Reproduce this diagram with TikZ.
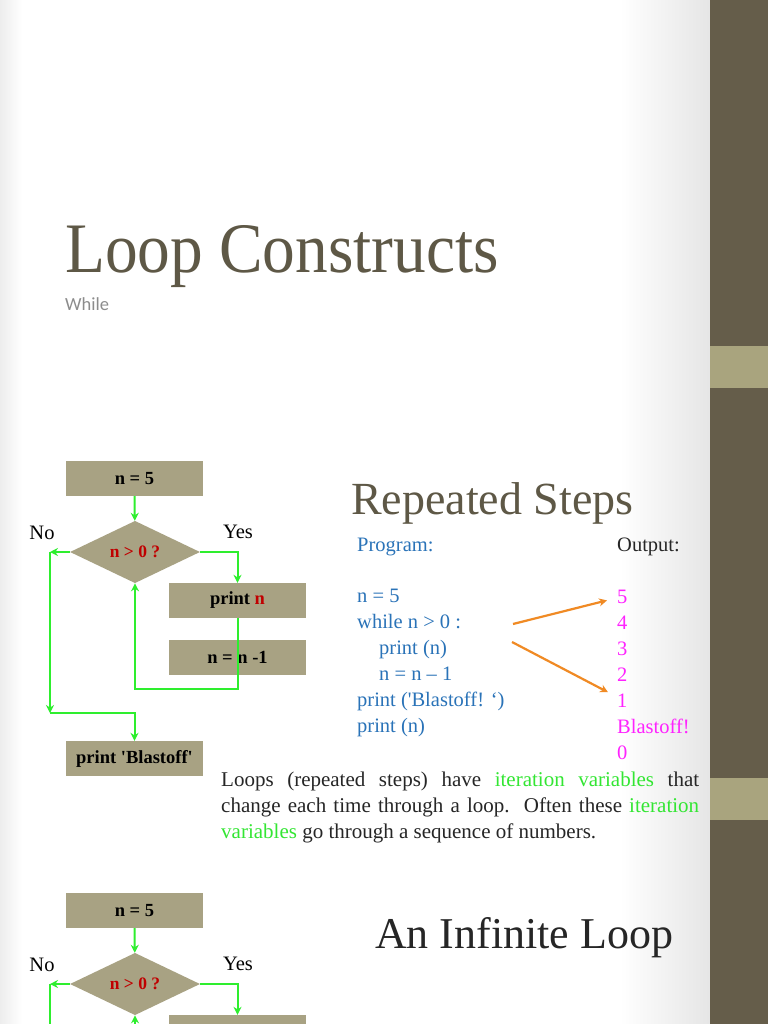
\documentclass[tikz,border=0pt]{standalone}
\usepackage{fontspec}
\setmainfont{Liberation Serif}
\newfontfamily\subfont{Carlito}
\usepackage{tikz}
\usetikzlibrary{arrows.meta,positioning,calc,shapes.geometric}
\definecolor{bar}{HTML}{655D4A}
\definecolor{band}{HTML}{A9A47E}
\definecolor{khaki}{HTML}{A8A283}
\definecolor{ttl}{HTML}{5E5846}
\definecolor{flow}{HTML}{2EEE2E}
\definecolor{cond}{HTML}{C00000}
\definecolor{prog}{HTML}{2A73B8}
\definecolor{outc}{HTML}{FF22FF}
\definecolor{orng}{HTML}{F08A24}
\definecolor{itv}{HTML}{33E633}
\tikzset{
  >={Stealth[length=8pt,width=8pt]},
  fbox/.style={fill=khaki,minimum width=137pt,minimum height=35pt,inner sep=0pt,font=\bfseries\fontsize{18.5}{18.5}\selectfont},
  dec/.style={diamond,fill=khaki,minimum width=130pt,minimum height=58pt,inner sep=0pt,font=\bfseries\fontsize{17.5}{17.5}\selectfont,text=cond},
  lab/.style={font=\fontsize{20.5}{20.5}\selectfont,inner sep=0pt},
  link/.style={->,draw=flow,line width=2pt},
  code/.style={anchor=base west,inner sep=0pt,font=\fontsize{20.5}{20.5}\selectfont,text=prog},
  outv/.style={anchor=base west,inner sep=0pt,font=\fontsize{20.5}{20.5}\selectfont,text=outc},
  para/.style={anchor=base west,inner sep=0pt,font=\fontsize{21}{21}\selectfont,text=black!85},
  pointer/.style={->,draw=orng,line width=2.2pt},
}
\begin{document}
\begin{tikzpicture}[x=1pt,y=-1pt]
\useasboundingbox (0,0) rectangle (768,1024);
\clip (0,0) rectangle (768,1024);
\fill[white] (0,0) rectangle (710,1024);
\shade[left color=white,right color=black!10] (620,0) rectangle (710,1024);
\shade[left color=black!7,right color=white] (0,0) rectangle (22,1024);
\fill[bar] (710,0) rectangle (768,1024);
\fill[band] (710,346) rectangle (768,388);
\fill[band] (710,778) rectangle (768,820);

\node[anchor=base west,inner sep=0pt,text=ttl,font=\fontsize{71}{71}\selectfont] (title) at (65,272) {\scalebox{0.92}[1]{Loop Constructs}};
\node[anchor=base west,inner sep=0pt,text=black!45,font=\subfont\fontsize{18.5}{18.5}\selectfont] (sub) at (65,310) {While};

\node[fbox] (inita) at (134.5,478.5) {n = 5};
\node[dec] (testa) at (135,552) {n > 0 ?};
\node[fbox] (showa) at (237.5,600.5) {print \textcolor{cond}{n}};
\node[fbox] (decra) at (237.5,657.5) {n = n -1};
\node[fbox] (donea) at (134.5,758.5) {print \textquotesingle Blastoff\textquotesingle};
\node[lab] (noa) at (42,533) {No};
\node[lab] (yesa) at (238,532) {Yes};
\coordinate (backa) at (237.5,689);
\coordinate (lefta) at (50,552);
\coordinate (lowa) at (50,713);
\draw[link] (inita) -- (testa);
\draw[link] (testa.east) -| (showa.north);
\draw[link] (showa.south) -- (backa) -| (testa.south);
\draw[link] (testa.west) -- (lefta);
\draw[link] (lefta) -- (lowa);
\draw[link] (lowa) -| (donea.north);

\node[anchor=base west,inner sep=0pt,text=ttl,font=\fontsize{46}{46}\selectfont] (rep) at (351,514) {Repeated Steps};
\node[code] (proglab) at (357,551) {Program:};
\node[outv,text=black!85] (outlab) at (617,551) {Output:};
\node[code] (l1) at (357,602) {n = 5};
\node[code] (l2) at (357,628) {while n > 0 :};
\node[code] (l3) at (379,654) {print (n)};
\node[code] (l4) at (379,680) {n = n – 1};
\node[code] (l5) at (357,706) {print (\textquotesingle Blastoff! ‘)};
\node[code] (l6) at (357,732) {print (n)};
\foreach \v [count=\i] in {5,4,3,2,1,Blastoff!,0}
  \node[outv] (out\i) at (617,577+26*\i) {\v};
\coordinate (src1) at (513,624);
\coordinate (src2) at (512,642);
\draw[pointer] (src1) -- ([shift={(-10,4)}]out1.west);
\draw[pointer] (src2) -- ([shift={(-9,-8)}]out5.west);

\node[para] (p1) at (221,786) {\makebox[478pt][s]{Loops (repeated steps) have \textcolor{itv}{iteration variables} that}};
\node[para] (p2) at (221,812) {\makebox[478pt][s]{change each time through a loop.\ \ Often these \textcolor{itv}{iteration}}};
\node[para] (p3) at (221,838) {\textcolor{itv}{variables} go through a sequence of numbers.};

\node[anchor=base west,inner sep=0pt,text=black!85,font=\fontsize{44}{44}\selectfont] (inf) at (375,948) {An Infinite Loop};
\node[fbox] (initb) at (134.5,910.5) {n = 5};
\node[dec] (testb) at (135,984) {n > 0 ?};
\node[fbox] (showb) at (237.5,1032.5) {};
\node[lab] (nob) at (42,965) {No};
\node[lab] (yesb) at (238,964) {Yes};
\coordinate (leftb) at (50,984);
\coordinate (lowb) at (50,1030);
\coordinate (backb) at (135,1030);
\draw[link] (initb) -- (testb);
\draw[link] (testb.east) -| (showb.north);
\draw[link] (testb.west) -- (leftb);
\draw[link,-] (leftb) -- (lowb);
\draw[link] (backb) -- (testb.south);
\end{tikzpicture}
\end{document}
